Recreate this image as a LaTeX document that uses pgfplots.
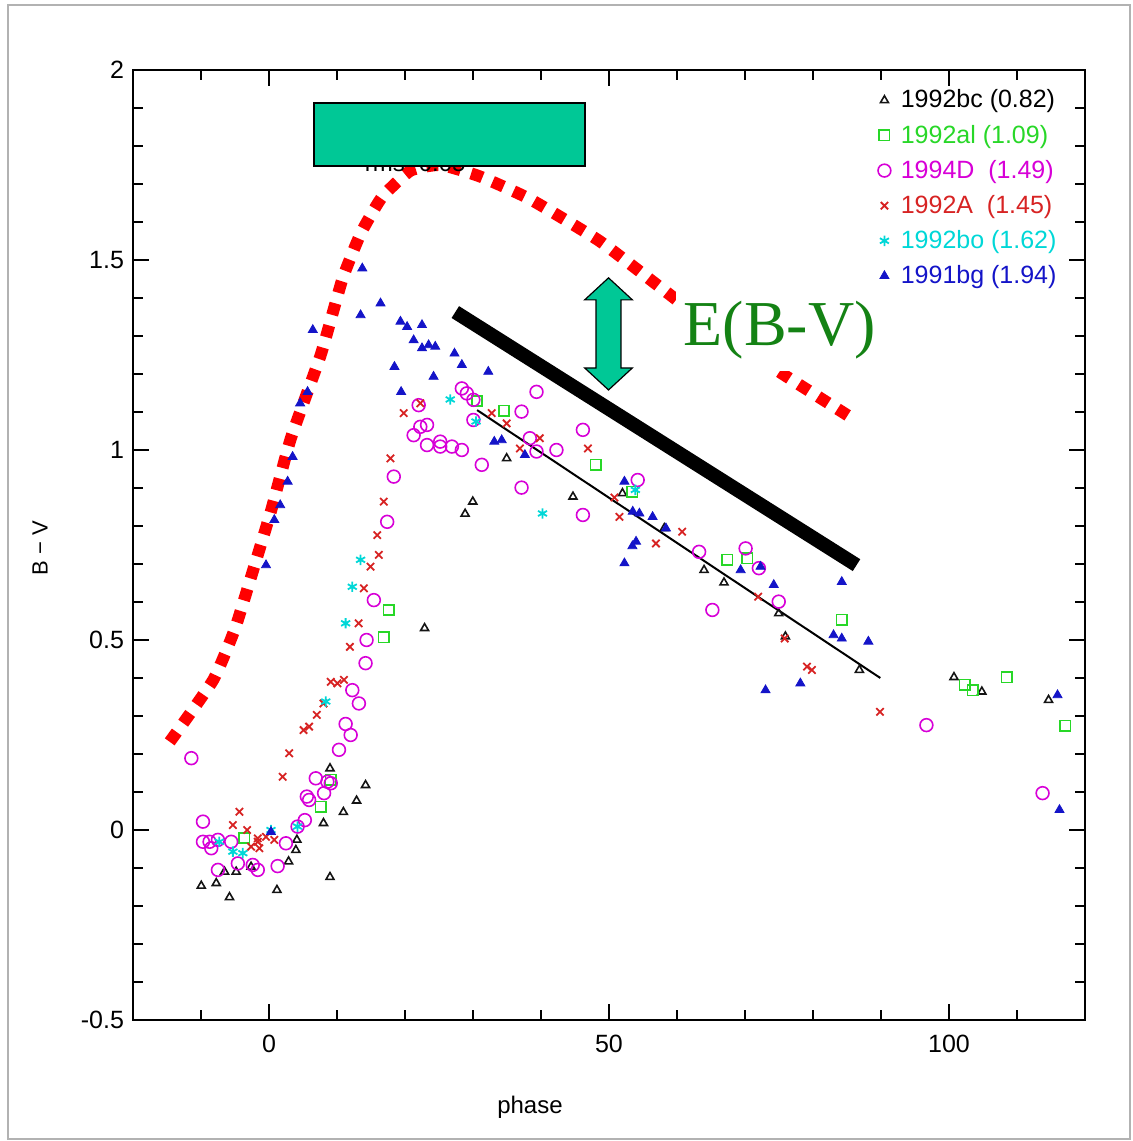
\documentclass[border=0pt]{standalone}
\usepackage{pgfplots}
\pgfplotsset{compat=1.18}
\usepackage{fontspec}
\setmainfont{Liberation Sans}
\newfontfamily\seriffont{Liberation Serif}
\definecolor{cBlack}{RGB}{20,20,20}
\definecolor{cGreen}{RGB}{40,215,40}
\definecolor{cMag}{RGB}{215,0,215}
\definecolor{cRed}{RGB}{215,35,35}
\definecolor{cCyan}{RGB}{0,215,215}
\definecolor{cBlue}{RGB}{20,20,200}
\definecolor{boxGreen}{RGB}{0,200,150}
\definecolor{ebvGreen}{RGB}{20,130,20}
\begin{document}
\begin{tikzpicture}
\path (0,0) rectangle (566pt,570.5pt);
\draw[gray!60, line width=1pt] (4pt,1pt) rectangle (565pt,568pt);
\begin{axis}[
  at={(66.5pt,60.5pt)}, anchor=south west,
  scale only axis, width=476pt, height=475pt,
  xmin=-20, xmax=120, ymin=-0.5, ymax=2,
  xtick={0,50,100}, xticklabels={0,50,100},
  ytick={-0.5,0,0.5,1,1.5,2}, yticklabels={-0.5,0,0.5,1,1.5,2},
  minor xtick={-10,10,20,30,40,60,70,80,90,110},
  minor ytick={-0.4,-0.3,-0.2,-0.1,0.1,0.2,0.3,0.4,0.6,0.7,0.8,0.9,1.1,1.2,1.3,1.4,1.6,1.7,1.8,1.9},
  major tick length=8pt, minor tick length=5pt,
  tick style={black, line width=0.6pt},
  axis line style={line width=0.8pt},
  tick label style={font=\fontsize{12.5}{14}\selectfont},
  xticklabel style={yshift=-4pt},
  yticklabel style={xshift=-1pt},
  xlabel={phase}, ylabel={B − V},
  xlabel style={font=\fontsize{12}{14}\selectfont, at={(axis description cs:0.417,-0.0916)}, anchor=center},
  ylabel style={font=\fontsize{11}{13}\selectfont, at={(axis description cs:-0.0977,0.497)}, anchor=center, rotate=0},
  legend style={draw=none, fill=none, at={(axis description cs:0.981,0.988)}, anchor=north east,
    font=\fontsize{12.5}{14}\selectfont, row sep=3pt, column sep=3pt},
  legend cell align=left,
]
% 1992bc
\addplot[only marks, mark=triangle, mark size=2.3pt, cBlack, line width=0.8pt] coordinates {
(-9.96,-0.147) (-7.76,-0.140) (-5.81,-0.177) (-6.54,-0.110) (-4.83,-0.110) (-2.64,-0.097)
(1.17,-0.158) (2.88,-0.083) (3.95,-0.053) (4.10,-0.026) (8.01,0.018) (10.94,0.047)
(12.88,0.077) (14.20,0.118) (8.97,-0.124) (8.97,0.162) (22.88,0.531) (28.84,0.832)
(29.97,0.864) (34.95,0.978) (44.70,0.877) (51.98,0.886) (58.13,0.794) (63.98,0.684)
(66.91,0.651) (74.96,0.570) (75.94,0.509) (86.82,0.421) (100.73,0.402) (104.83,0.364)
(114.64,0.342)
};
\addlegendentry{\textcolor{black}{1992bc (0.82)}}
% 1992al
\addplot[only marks, mark=square, mark size=2.6pt, cGreen, line width=0.8pt] coordinates {
(-3.66,-0.021) (7.61,0.061) (9.08,0.132) (16.88,0.507) (17.61,0.579) (30.60,1.129)
(34.55,1.103) (48.02,0.961) (53.44,0.890) (67.39,0.711) (70.32,0.715) (84.23,0.553)
(102.30,0.382) (103.51,0.368) (108.49,0.402) (117.13,0.274)
};
\addlegendentry{\textcolor{cGreen}{1992al (1.09)}}
% 1994D
\addplot[only marks, mark=o, mark size=3.2pt, cMag, line width=0.8pt] coordinates {
(-11.42,0.189) (-9.71,0.022) (-9.71,-0.031) (-8.74,-0.031) (-7.51,-0.026) (-8.49,-0.048)
(-5.56,-0.031) (-4.58,-0.088) (-7.51,-0.105) (-2.39,-0.092) (-1.65,-0.105) (1.27,-0.095)
(2.49,-0.035) (4.20,0.009) (5.27,0.026) (5.56,0.088) (5.90,0.079) (6.88,0.136)
(8.10,0.097) (8.59,0.127) (9.08,0.123) (10.29,0.211) (11.27,0.279) (12.01,0.25)
(12.25,0.368) (13.22,0.333) (14.20,0.439) (14.35,0.5) (15.42,0.605) (17.38,0.811)
(18.35,0.930) (21.27,1.039) (22.01,1.118) (22.25,1.061) (23.24,1.066) (23.24,1.013)
(25.18,1.022) (25.18,1.009) (26.90,1.009) (28.36,1.0) (28.36,1.162) (29.09,1.149)
(30.06,1.132) (30.06,1.079) (31.29,0.961) (37.14,1.101) (39.34,1.153) (38.36,1.031)
(39.34,0.996) (42.27,1.0) (37.14,0.901) (46.16,1.053) (46.16,0.829) (54.22,0.921)
(63.25,0.732) (70.09,0.741) (72.04,0.689) (74.96,0.601) (65.20,0.579) (96.68,0.276)
(113.76,0.097)
};
\addlegendentry{\textcolor{cMag}{1994D\ \ (1.49)}}
% 1992A
\addplot[only marks, mark=x, mark size=2.6pt, cRed, line width=0.9pt] coordinates {
(-4.35,0.048) (-5.31,0.013) (-3.22,0.0) (-2.64,-0.044) (-1.42,-0.048) (-1.65,-0.022)
(-0.44,-0.018) (0.78,-0.026) (-1.65,-0.031) (2.01,0.140) (2.97,0.202) (5.08,0.263)
(5.90,0.272) (7.03,0.303) (8.01,0.333) (9.08,0.390) (10.06,0.386) (11.02,0.395)
(11.90,0.482) (13.18,0.544) (13.95,0.636) (14.93,0.693) (16.15,0.724) (15.92,0.776)
(16.88,0.864) (17.86,0.978) (19.81,1.097) (22.25,1.123) (32.75,1.097) (34.95,1.070)
(39.82,1.031) (36.90,1.004) (46.90,1.004) (50.80,0.875) (51.54,0.824) (60.76,0.785)
(56.91,0.754) (71.93,0.614) (75.84,0.504) (79.11,0.430) (79.84,0.421) (89.85,0.311)
};
\addlegendentry{\textcolor{cRed}{1992A\ \ (1.45)}}
% 1992bo
\addplot[only marks, mark=asterisk, mark size=2.6pt, cCyan, line width=0.9pt] coordinates {
(-7.32,-0.031) (-5.31,-0.057) (-3.85,-0.061) (0.29,0.0) (4.20,0.009) (8.35,0.338)
(11.27,0.544) (12.25,0.640) (13.47,0.711) (26.65,1.133) (30.45,1.075) (40.22,0.833)
(53.88,0.895)
};
\addlegendentry{\textcolor{cCyan}{1992bo (1.62)}}
% 1991bg
\addplot[only marks, mark=triangle*, mark size=2.6pt, cBlue, mark options={fill=cBlue}] coordinates {
(-0.44,0.697) (0.78,0.816) (1.65,0.855) (2.74,0.917) (3.47,0.982) (4.58,1.123)
(5.67,1.153) (6.44,1.316) (13.47,1.355) (13.72,1.478) (16.40,1.386) (19.33,1.338)
(20.31,1.324) (22.50,1.329) (21.27,1.289) (22.50,1.268) (23.47,1.276) (24.45,1.272)
(27.28,1.254) (28.36,1.224) (18.45,1.219) (24.20,1.193) (32.25,1.206) (19.43,1.153)
(33.13,1.022) (34.22,1.026) (37.63,0.987) (52.27,0.917) (53.49,0.838) (54.47,0.833)
(56.41,0.824) (58.37,0.794) (53.44,0.747) (53.98,0.759) (52.27,0.702) (69.36,0.684)
(72.28,0.693) (74.23,0.645) (84.23,0.653) (83.02,0.513) (84.23,0.504) (88.14,0.496)
(78.14,0.386) (73.02,0.368) (115.96,0.355) (116.25,0.053) (0.29,-0.005)
};
\addlegendentry{\textcolor{cBlue}{1991bg (1.94)}}
% thin fit line
\addplot[black, line width=1pt, forget plot] coordinates {(30.6,1.105) (89.9,0.40)};
% thick line
\addplot[black, line width=7pt, forget plot] coordinates {(27.4,1.363) (86.4,0.697)};
% red dotted envelope
\addplot[red, line width=6pt, dash pattern=on 6pt off 5.5pt, smooth, tension=0.3, forget plot] coordinates {
(-14.6,0.232) (-8.2,0.395) (-5.0,0.53) (-2.4,0.68) (0.3,0.84) (3.2,1.03) (7.6,1.25)
(10.8,1.45) (13.5,1.57) (16.6,1.665) (20.8,1.735) (25.2,1.75) (31.0,1.72) (38.4,1.66)
(48.6,1.55) (57.4,1.43) (66.2,1.31) (76.4,1.19) (85.2,1.09)
};
% hidden text under box
\node[anchor=base, font=\fontsize{12}{14}\selectfont] at (axis cs:21.5,1.732) {rms=0.05};
% green box
\draw[black, line width=1pt, fill=boxGreen] (axis cs:6.59,1.747) rectangle (axis cs:46.41,1.913);
% double arrow
\draw[black, line width=0.6pt, fill=boxGreen]
 (axis cs:49.93,1.453) -- (axis cs:53.44,1.395) -- (axis cs:51.76,1.395) -- (axis cs:51.76,1.216)
 -- (axis cs:53.44,1.216) -- (axis cs:49.93,1.158) -- (axis cs:46.42,1.216) -- (axis cs:48.10,1.216)
 -- (axis cs:48.10,1.395) -- (axis cs:46.42,1.395) -- cycle;
% E(B-V) label
\node[fill=white, inner xsep=4pt, inner ysep=6pt, text=ebvGreen, font=\seriffont\fontsize{32}{36}\selectfont]
 at (axis cs:75.1,1.316) {E(B-V)};
\end{axis}
\end{tikzpicture}
\end{document}
